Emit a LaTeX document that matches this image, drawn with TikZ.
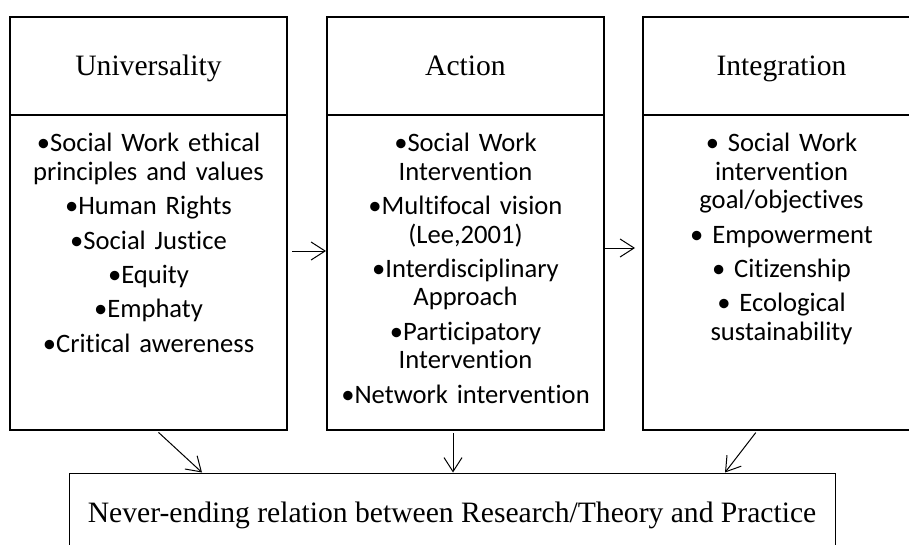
\documentclass[tikz,border=0pt]{standalone}
\usepackage{fontspec}
\setmainfont{Liberation Serif}
\newfontfamily\bodyfont[Ligatures=NoCommon,WordSpace=0.8]{Carlito}
\usetikzlibrary{arrows.meta}

\begin{document}
\begin{tikzpicture}[x=0.5pt,y=-0.5pt]
  \tikzstyle{head}=[draw,line width=1pt,minimum width=138.5pt,minimum height=49pt,text height=13pt,text depth=3pt,font=\fontsize{14.8}{17}\selectfont]
  \tikzstyle{body}=[draw,line width=1pt,minimum width=138.5pt,minimum height=157.5pt]
  \tikzstyle{items}=[text width=136pt,align=center,inner sep=0pt,anchor=north,font=\bodyfont\fontsize{13.3}{14.2}\selectfont]
  \tikzstyle{link}=[draw,line width=0.5pt,-{Straight Barb[length=7pt,width=9pt]}]
  \useasboundingbox (0,0) rectangle (909,545);
  % three columns
  \node[head] (uniHead) at (148.5,66) {Universality};
  \node[head] (actHead) at (465.5,66) {Action};
  \node[head] (intHead) at (781.5,66) {Integration};
  \node[body] (uniBody) at (148.5,272.5) {};
  \node[body] (actBody) at (465.5,272.5) {};
  \node[body] (intBody) at (781.5,272.5) {};
  \node[items] (uniText) at (148.5,133) {•Social Work ethical\\principles and values\\[3pt]•Human Rights\\[3pt]•Social Justice\\[3pt]•Equity\\[3pt]•Emphaty\\[3pt]•Critical awereness};
  \node[items] (actText) at (465.5,133) {•Social Work\\Intervention\\[3pt]•Multifocal vision\\(Lee,2001)\\[3pt]•Interdisciplinary\\Approach\\[3pt]•Participatory\\Intervention\\[3pt]•Network intervention};
  \node[items] (intText) at (781.5,133) {• Social Work\\intervention\\goal/objectives\\[3pt]• Empowerment\\[3pt]• Citizenship\\[3pt]• Ecological\\sustainability};
  % bottom box
  \node[draw,line width=0.5pt,minimum width=383pt,minimum height=42pt,font=\fontsize{14.8}{17}\selectfont] (rel) at (452,515) {Never-ending relation between Research/Theory and Practice};
  % arrows
  \draw[link,shorten <=2pt] (uniBody.east |- 0,251) -- (actBody.west |- 0,251);
  \draw[link,shorten >=3.5pt] (actBody.east |- 0,248) -- (intBody.west |- 0,248);
  \draw[link,shorten <=1pt] (uniBody.south -| 157,0) -- (rel.north -| 202,0);
  \draw[link,shorten <=1pt] (actBody.south -| 453,0) -- (rel.north -| 453,0);
  \draw[link,shorten <=1pt] (intBody.south -| 757,0) -- (rel.north -| 725,0);
\end{tikzpicture}
\end{document}
